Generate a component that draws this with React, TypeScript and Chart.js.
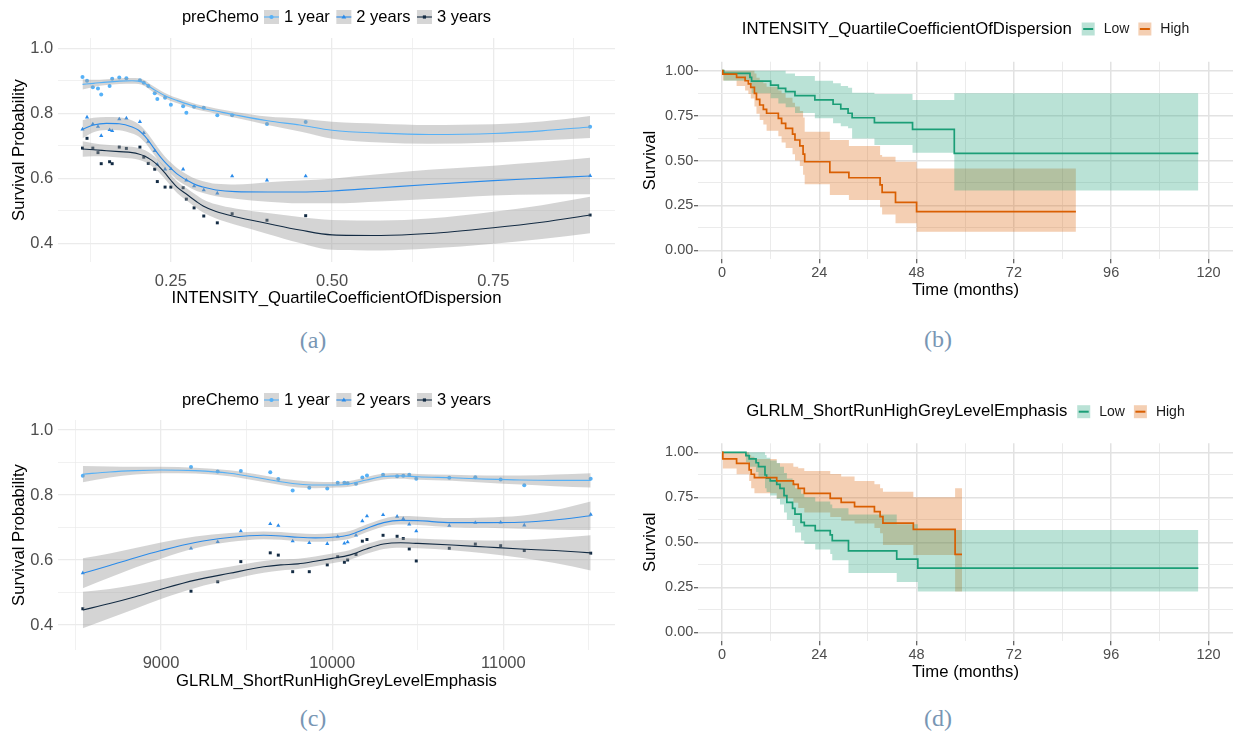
import React, { useEffect, useRef } from "react";
import { Chart, registerables } from "chart.js";

Chart.register(...registerables);

const FONT = "'Liberation Sans', Arial, Helvetica, sans-serif";
const TICK_GREY = "#4d4d4d";

// ---------------- shared series info (smooth panels) ----------------
const SERIES_LABELS = ["1 year", "2 years", "3 years"];
const SERIES_COLORS = ["#56B1F7", "#2A8BEA", "#132B43"];
const SERIES_MARKERS = ["circle", "triangle", "rect"];
const SMOOTH_LEGEND_TITLE = "preChemo";

// ---------------- (a) INTENSITY_QuartileCoefficientOfDispersion ----------------
const A_POINT_X = [0.113, 0.120, 0.129, 0.137, 0.142, 0.155, 0.159, 0.170, 0.181, 0.202, 0.208, 0.215, 0.225, 0.229, 0.241, 0.250, 0.269, 0.274, 0.286, 0.301, 0.322, 0.345, 0.399, 0.459, 0.900];
const A_POINT_1Y = [0.912, 0.900, 0.880, 0.876, 0.858, 0.884, 0.906, 0.910, 0.908, 0.902, 0.894, 0.884, 0.862, 0.844, 0.848, 0.826, 0.822, 0.802, 0.820, 0.817, 0.794, 0.794, 0.767, 0.773, 0.759];
const A_POINT_2Y = [0.751, 0.788, 0.767, 0.759, 0.731, 0.749, 0.746, 0.782, 0.785, 0.774, 0.740, 0.713, 0.685, 0.643, 0.628, 0.629, 0.628, 0.594, 0.576, 0.564, 0.554, 0.607, 0.594, 0.607, 0.608];
const A_POINT_3Y = [0.693, 0.723, 0.693, 0.679, 0.645, 0.651, 0.645, 0.696, 0.692, 0.696, 0.665, 0.646, 0.628, 0.590, 0.573, 0.573, 0.571, 0.536, 0.509, 0.484, 0.463, 0.491, 0.471, 0.485, 0.487];

const A_SMOOTH_X = [0.113, 0.13, 0.15, 0.17, 0.19, 0.20, 0.21, 0.22, 0.23, 0.24, 0.25, 0.26, 0.275, 0.29, 0.30, 0.32, 0.35, 0.40, 0.45, 0.50, 0.575, 0.65, 0.75, 0.825, 0.90];
const A_LINE_1Y = [0.889, 0.892, 0.896, 0.899, 0.900, 0.899, 0.892, 0.878, 0.866, 0.855, 0.846, 0.839, 0.829, 0.820, 0.815, 0.807, 0.795, 0.777, 0.764, 0.748, 0.739, 0.735, 0.738, 0.746, 0.758];
const A_UPPER_1Y = [0.905, 0.903, 0.905, 0.908, 0.909, 0.908, 0.901, 0.887, 0.875, 0.863, 0.854, 0.847, 0.837, 0.828, 0.823, 0.815, 0.804, 0.790, 0.784, 0.774, 0.768, 0.764, 0.766, 0.775, 0.792];
const A_LOWER_1Y = [0.873, 0.881, 0.887, 0.890, 0.891, 0.890, 0.883, 0.869, 0.857, 0.847, 0.838, 0.831, 0.821, 0.812, 0.807, 0.799, 0.786, 0.764, 0.744, 0.722, 0.710, 0.706, 0.710, 0.717, 0.724];
const A_LINE_2Y = [0.751, 0.764, 0.769, 0.768, 0.758, 0.748, 0.729, 0.703, 0.675, 0.651, 0.631, 0.613, 0.594, 0.579, 0.573, 0.564, 0.559, 0.558, 0.558, 0.561, 0.571, 0.581, 0.593, 0.600, 0.607];
const A_UPPER_2Y = [0.779, 0.786, 0.789, 0.788, 0.778, 0.767, 0.748, 0.722, 0.694, 0.669, 0.649, 0.631, 0.612, 0.597, 0.591, 0.583, 0.581, 0.588, 0.593, 0.599, 0.613, 0.626, 0.639, 0.650, 0.663];
const A_LOWER_2Y = [0.723, 0.742, 0.749, 0.748, 0.738, 0.729, 0.710, 0.684, 0.656, 0.633, 0.613, 0.595, 0.576, 0.561, 0.555, 0.545, 0.537, 0.528, 0.523, 0.523, 0.529, 0.536, 0.547, 0.550, 0.551];
const A_LINE_3Y = [0.690, 0.688, 0.685, 0.682, 0.679, 0.675, 0.668, 0.656, 0.640, 0.618, 0.594, 0.572, 0.550, 0.528, 0.515, 0.498, 0.482, 0.461, 0.441, 0.426, 0.424, 0.430, 0.448, 0.465, 0.487];
const A_UPPER_3Y = [0.714, 0.708, 0.703, 0.700, 0.697, 0.693, 0.686, 0.674, 0.658, 0.636, 0.612, 0.590, 0.569, 0.548, 0.535, 0.520, 0.507, 0.493, 0.481, 0.472, 0.470, 0.476, 0.497, 0.517, 0.543];
const A_LOWER_3Y = [0.666, 0.668, 0.667, 0.664, 0.661, 0.657, 0.650, 0.638, 0.622, 0.600, 0.576, 0.554, 0.531, 0.508, 0.495, 0.476, 0.457, 0.429, 0.401, 0.380, 0.378, 0.384, 0.399, 0.413, 0.431];

const A_X_TICKS = [0.125, 0.25, 0.375, 0.5, 0.625, 0.75, 0.875];
const A_X_LABELS = ["", "0.25", "", "0.50", "", "0.75", ""];
const A_X_TITLE = "INTENSITY_QuartileCoefficientOfDispersion";

// ---------------- (c) GLRLM_ShortRunHighGreyLevelEmphasis ----------------
const C_POINT_X = [8543, 9175, 9331, 9466, 9638, 9685, 9769, 9866, 9971, 10032, 10071, 10090, 10139, 10176, 10203, 10297, 10379, 10415, 10450, 10491, 10684, 10836, 10984, 11122, 11510];
const C_POINT_1Y = [0.859, 0.886, 0.872, 0.874, 0.870, 0.849, 0.814, 0.822, 0.820, 0.838, 0.838, 0.836, 0.835, 0.854, 0.860, 0.862, 0.858, 0.859, 0.862, 0.850, 0.853, 0.855, 0.848, 0.830, 0.850];
const C_POINT_2Y = [0.560, 0.636, 0.656, 0.689, 0.711, 0.706, 0.658, 0.653, 0.650, 0.672, 0.651, 0.655, 0.676, 0.720, 0.735, 0.739, 0.734, 0.727, 0.710, 0.689, 0.706, 0.715, 0.716, 0.707, 0.740];
const C_POINT_3Y = [0.450, 0.504, 0.533, 0.595, 0.622, 0.615, 0.564, 0.564, 0.585, 0.610, 0.593, 0.600, 0.617, 0.658, 0.663, 0.676, 0.673, 0.666, 0.634, 0.597, 0.636, 0.649, 0.644, 0.629, 0.621];

const C_SMOOTH_X = [8543, 8700, 8850, 9000, 9200, 9400, 9600, 9700, 9800, 9900, 10000, 10100, 10200, 10300, 10400, 10500, 10700, 10900, 11100, 11300, 11510];
const C_LINE_1Y = [0.864, 0.871, 0.875, 0.877, 0.875, 0.867, 0.850, 0.841, 0.834, 0.831, 0.831, 0.834, 0.846, 0.857, 0.859, 0.856, 0.853, 0.849, 0.846, 0.845, 0.845];
const C_UPPER_1Y = [0.889, 0.888, 0.887, 0.887, 0.884, 0.876, 0.860, 0.851, 0.845, 0.841, 0.840, 0.843, 0.855, 0.866, 0.868, 0.865, 0.862, 0.860, 0.860, 0.863, 0.867];
const C_LOWER_1Y = [0.839, 0.854, 0.863, 0.867, 0.866, 0.858, 0.840, 0.831, 0.823, 0.821, 0.822, 0.825, 0.837, 0.848, 0.850, 0.847, 0.844, 0.838, 0.832, 0.827, 0.823];
const C_LINE_2Y = [0.559, 0.583, 0.607, 0.629, 0.654, 0.669, 0.676, 0.674, 0.670, 0.668, 0.670, 0.677, 0.697, 0.715, 0.722, 0.721, 0.715, 0.715, 0.716, 0.723, 0.736];
const C_UPPER_2Y = [0.605, 0.620, 0.637, 0.654, 0.672, 0.683, 0.688, 0.686, 0.682, 0.680, 0.682, 0.689, 0.709, 0.727, 0.735, 0.734, 0.729, 0.731, 0.736, 0.753, 0.780];
const C_LOWER_2Y = [0.513, 0.546, 0.577, 0.604, 0.636, 0.655, 0.664, 0.662, 0.658, 0.656, 0.658, 0.665, 0.685, 0.703, 0.709, 0.708, 0.701, 0.699, 0.696, 0.693, 0.692];
const C_LINE_3Y = [0.446, 0.466, 0.487, 0.510, 0.538, 0.559, 0.579, 0.585, 0.588, 0.596, 0.605, 0.615, 0.634, 0.649, 0.653, 0.651, 0.646, 0.640, 0.634, 0.629, 0.622];
const C_UPPER_3Y = [0.502, 0.511, 0.524, 0.540, 0.562, 0.579, 0.597, 0.602, 0.604, 0.611, 0.620, 0.630, 0.649, 0.664, 0.668, 0.666, 0.662, 0.660, 0.661, 0.667, 0.676];
const C_LOWER_3Y = [0.390, 0.421, 0.450, 0.480, 0.514, 0.539, 0.561, 0.568, 0.572, 0.581, 0.590, 0.600, 0.619, 0.634, 0.638, 0.636, 0.630, 0.620, 0.607, 0.591, 0.568];

const C_X_TICKS = [8500, 9000, 9500, 10000, 10500, 11000, 11500];
const C_X_LABELS = ["", "9000", "", "10000", "", "11000", ""];
const C_X_TITLE = "GLRLM_ShortRunHighGreyLevelEmphasis";

const SMOOTH_Y_TICKS = [0.4, 0.5, 0.6, 0.7, 0.8, 0.9, 1.0];
const SMOOTH_Y_LABELS = ["0.4", "", "0.6", "", "0.8", "", "1.0"];
const SMOOTH_Y_TITLE = "Survival Probability";

// ---------------- (b) Kaplan-Meier, INTENSITY_QuartileCoefficientOfDispersion ----------------
const B_TITLE = "INTENSITY_QuartileCoefficientOfDispersion";
const B_LOW_T = [0, 0.4, 6.9, 7.3, 12.0, 13.9, 15.7, 18.0, 22.9, 27.4, 29.3, 31.1, 32.1, 37.6, 47.0, 57.3, 117.5];
const B_LOW_S = [1.0, 0.985, 0.963, 0.942, 0.920, 0.902, 0.883, 0.861, 0.837, 0.813, 0.787, 0.763, 0.738, 0.711, 0.673, 0.540, 0.540];
const B_LOW_U = [1.0, 1.0, 1.0, 1.0, 1.0, 1.0, 0.985, 0.97, 0.944, 0.93, 0.915, 0.905, 0.877, 0.87, 0.837, 0.874, 0.874];
const B_LOW_L = [1.0, 0.944, 0.92, 0.874, 0.846, 0.818, 0.796, 0.765, 0.735, 0.707, 0.69, 0.679, 0.623, 0.586, 0.543, 0.333, 0.333];
const B_HIGH_T = [0, 0.2, 3.6, 5.7, 6.5, 7.1, 8.0, 8.5, 9.3, 10.2, 11.0, 13.9, 14.7, 15.7, 17.4, 18.0, 19.2, 20.0, 20.4, 26.6, 31.3, 39.0, 39.5, 42.8, 48.0, 87.3];
const B_HIGH_S = [1.0, 0.981, 0.963, 0.944, 0.926, 0.907, 0.874, 0.840, 0.809, 0.785, 0.763, 0.735, 0.707, 0.679, 0.647, 0.614, 0.581, 0.536, 0.493, 0.434, 0.404, 0.364, 0.323, 0.267, 0.215, 0.215];
const B_HIGH_U = [1.0, 1.0, 1.0, 1.0, 1.0, 1.0, 0.985, 0.96, 0.945, 0.93, 0.91, 0.89, 0.874, 0.85, 0.822, 0.80, 0.775, 0.74, 0.66, 0.614, 0.581, 0.53, 0.521, 0.493, 0.455, 0.455];
const B_HIGH_L = [1.0, 0.945, 0.915, 0.89, 0.87, 0.845, 0.80, 0.76, 0.725, 0.70, 0.665, 0.635, 0.60, 0.57, 0.535, 0.50, 0.47, 0.42, 0.368, 0.308, 0.28, 0.24, 0.20, 0.15, 0.104, 0.104];

// ---------------- (d) Kaplan-Meier, GLRLM_ShortRunHighGreyLevelEmphasis ----------------
const D_TITLE = "GLRLM_ShortRunHighGreyLevelEmphasis";
const D_LOW_T = [0, 5.9, 6.7, 8.4, 9.0, 10.6, 11.0, 11.9, 13.5, 14.3, 15.3, 16.0, 17.4, 18.0, 19.5, 20.3, 23.0, 26.7, 27.2, 31.2, 43.1, 48.3, 117.5];
const D_LOW_S = [1.0, 0.981, 0.963, 0.942, 0.920, 0.874, 0.856, 0.841, 0.822, 0.800, 0.759, 0.722, 0.689, 0.657, 0.611, 0.593, 0.565, 0.541, 0.509, 0.452, 0.406, 0.356, 0.356];
const D_LOW_U = [1.0, 1.0, 1.0, 1.0, 1.0, 0.985, 0.97, 0.955, 0.94, 0.92, 0.885, 0.855, 0.83, 0.80, 0.77, 0.75, 0.726, 0.71, 0.689, 0.655, 0.60, 0.568, 0.568];
const D_LOW_L = [1.0, 0.945, 0.92, 0.89, 0.86, 0.80, 0.78, 0.76, 0.74, 0.71, 0.665, 0.625, 0.59, 0.555, 0.51, 0.49, 0.46, 0.435, 0.40, 0.33, 0.28, 0.226, 0.226];
const D_HIGH_T = [0, 0.2, 3.6, 6.7, 7.2, 8.0, 13.5, 17.6, 18.8, 20.3, 26.7, 29.4, 32.7, 37.6, 39.0, 39.7, 47.2, 57.5, 59.2];
const D_HIGH_S = [1.0, 0.963, 0.939, 0.902, 0.878, 0.859, 0.841, 0.822, 0.800, 0.772, 0.744, 0.722, 0.698, 0.670, 0.643, 0.606, 0.572, 0.433, 0.433];
const D_HIGH_U = [1.0, 1.0, 1.0, 0.985, 0.975, 0.963, 0.939, 0.92, 0.911, 0.896, 0.88, 0.865, 0.84, 0.822, 0.80, 0.781, 0.75, 0.80, 0.80];
const D_HIGH_L = [1.0, 0.91, 0.878, 0.84, 0.80, 0.772, 0.745, 0.72, 0.69, 0.665, 0.64, 0.62, 0.605, 0.58, 0.55, 0.485, 0.43, 0.226, 0.226];

const KM_X_TICKS = [0, 12, 24, 36, 48, 60, 72, 84, 96, 108, 120];
const KM_X_LABELS = ["0", "", "24", "", "48", "", "72", "", "96", "", "120"];
const KM_Y_TICKS = [0, 0.125, 0.25, 0.375, 0.5, 0.625, 0.75, 0.875, 1.0];
const KM_Y_LABELS = ["0.00", "", "0.25", "", "0.50", "", "0.75", "", "1.00"];
const KM_X_TITLE = "Time (months)";
const KM_Y_TITLE = "Survival";
const KM_GROUPS = ["Low", "High"];
const KM_COLORS = ["#1B9E77", "#D95F02"];
const KM_FILLS = ["rgba(27,158,119,0.3)", "rgba(217,95,2,0.3)"];

const CAPTIONS = ["(a)", "(b)", "(c)", "(d)"];

// ---------------- helpers ----------------
function pts(xs: number[], ys: number[]) {
  return xs.map((x, i) => ({ x, y: ys[i] }));
}

function idxOf(values: number[], v: number) {
  return values.findIndex((t) => Math.abs(t - v) < 1e-9);
}

function labelFor(values: number[], labels: string[]) {
  return (v: any) => {
    const i = idxOf(values, Number(v));
    return i >= 0 ? labels[i] : "";
  };
}

function isMajor(values: number[], labels: string[], ctx: any) {
  const v = ctx && ctx.tick ? ctx.tick.value : NaN;
  const i = idxOf(values, v);
  return i >= 0 && labels[i] !== "";
}

function drawMarker(ctx: CanvasRenderingContext2D, kind: string, x: number, y: number, color: string) {
  ctx.fillStyle = color;
  ctx.beginPath();
  if (kind === "circle") {
    ctx.arc(x, y, 2.1, 0, Math.PI * 2);
  } else if (kind === "triangle") {
    ctx.moveTo(x, y - 2.6);
    ctx.lineTo(x + 2.4, y + 1.6);
    ctx.lineTo(x - 2.4, y + 1.6);
    ctx.closePath();
  } else {
    ctx.rect(x - 1.6, y - 1.6, 3.2, 3.2);
  }
  ctx.fill();
}

function smoothLegendPlugin(cy: number) {
  return {
    id: "smoothLegend",
    afterDraw(chart: any) {
      const ctx: CanvasRenderingContext2D = chart.ctx;
      const area = chart.chartArea;
      ctx.save();
      ctx.font = `16.5px ${FONT}`;
      ctx.textBaseline = "middle";
      ctx.textAlign = "left";
      const box = 15, g1 = 5, g2 = 5, g3 = 6.5;
      const tw = ctx.measureText(SMOOTH_LEGEND_TITLE).width;
      const widths = SERIES_LABELS.map((l) => ctx.measureText(l).width);
      let total = tw + g1;
      widths.forEach((w, i) => {
        total += box + g2 + w + (i < widths.length - 1 ? g3 : 0);
      });
      let x = (area.left + area.right) / 2 - total / 2;
      ctx.fillStyle = "#000";
      ctx.fillText(SMOOTH_LEGEND_TITLE, x, cy);
      x += tw + g1;
      SERIES_LABELS.forEach((label, i) => {
        ctx.fillStyle = "#d6d6d6";
        ctx.fillRect(x, cy - 7, box, 14);
        ctx.strokeStyle = SERIES_COLORS[i];
        ctx.lineWidth = 1.1;
        ctx.beginPath();
        ctx.moveTo(x, cy);
        ctx.lineTo(x + box, cy);
        ctx.stroke();
        drawMarker(ctx, SERIES_MARKERS[i], x + box / 2, cy, SERIES_COLORS[i]);
        x += box + g2;
        ctx.fillStyle = "#000";
        ctx.fillText(label, x, cy);
        x += widths[i] + g3;
      });
      ctx.restore();
    },
  };
}

function kmLegendPlugin(cy: number, title: string) {
  return {
    id: "kmLegend",
    afterDraw(chart: any) {
      const ctx: CanvasRenderingContext2D = chart.ctx;
      const area = chart.chartArea;
      ctx.save();
      ctx.textBaseline = "middle";
      ctx.textAlign = "left";
      ctx.font = `16.7px ${FONT}`;
      const tw = ctx.measureText(title).width;
      ctx.font = `14px ${FONT}`;
      const widths = KM_GROUPS.map((g) => ctx.measureText(g).width);
      const box = 13, g1 = 10, g2 = 9, g3 = 9;
      let total = tw + g1;
      widths.forEach((w, i) => {
        total += box + g2 + w + (i < widths.length - 1 ? g3 : 0);
      });
      let x = (area.left + area.right) / 2 - total / 2;
      ctx.font = `16.7px ${FONT}`;
      ctx.fillStyle = "#000";
      ctx.fillText(title, x, cy);
      x += tw + g1;
      ctx.font = `14px ${FONT}`;
      KM_GROUPS.forEach((g, i) => {
        ctx.fillStyle = KM_FILLS[i];
        ctx.fillRect(x, cy - 6.5, box, 13);
        ctx.strokeStyle = KM_COLORS[i];
        ctx.lineWidth = 2;
        ctx.beginPath();
        ctx.moveTo(x + 1.5, cy);
        ctx.lineTo(x + box - 1.5, cy);
        ctx.stroke();
        x += box + g2;
        ctx.fillStyle = "#1a1a1a";
        ctx.fillText(g, x, cy);
        x += widths[i] + g3;
      });
      ctx.restore();
    },
  };
}

type SmoothSpec = {
  pointX: number[];
  pointY: number[][];
  smoothX: number[];
  line: number[][];
  upper: number[][];
  lower: number[][];
  xMin: number;
  xMax: number;
  yMin: number;
  yMax: number;
  xTicks: number[];
  xLabels: string[];
  xTitle: string;
  padTop: number;
  padRight: number;
  xAxisHeight: number;
  xTickPad: number;
  xTitlePad: number;
  legendY: number;
};

function smoothConfig(s: SmoothSpec): any {
  const datasets: any[] = [];
  const radii = [2.0, 2.4, 2.1];
  for (let k = 0; k < 3; k++) {
    datasets.push({
      data: pts(s.pointX, s.pointY[k]),
      showLine: false,
      pointStyle: SERIES_MARKERS[k],
      pointRadius: radii[k],
      pointBackgroundColor: SERIES_COLORS[k],
      pointBorderColor: SERIES_COLORS[k],
      pointBorderWidth: 0,
      borderColor: SERIES_COLORS[k],
      fill: false,
      order: 30,
    });
  }
  for (let k = 0; k < 3; k++) {
    datasets.push({
      data: pts(s.smoothX, s.upper[k]),
      borderColor: "rgba(0,0,0,0)",
      borderWidth: 0,
      pointRadius: 0,
      cubicInterpolationMode: "monotone",
      fill: "+1",
      backgroundColor: "rgba(153,153,153,0.42)",
      order: 20,
    });
    datasets.push({
      data: pts(s.smoothX, s.lower[k]),
      borderColor: "rgba(0,0,0,0)",
      borderWidth: 0,
      pointRadius: 0,
      cubicInterpolationMode: "monotone",
      fill: false,
      order: 20,
    });
  }
  for (let k = 0; k < 3; k++) {
    datasets.push({
      data: pts(s.smoothX, s.line[k]),
      borderColor: SERIES_COLORS[k],
      borderWidth: 1.1,
      pointRadius: 0,
      cubicInterpolationMode: "monotone",
      fill: false,
      order: 10,
    });
  }
  return {
    type: "line",
    data: { datasets },
    options: {
      responsive: false,
      maintainAspectRatio: false,
      animation: false,
      events: [],
      layout: { padding: { top: s.padTop, right: s.padRight, left: 0, bottom: 0 } },
      plugins: { legend: { display: false }, tooltip: { enabled: false } },
      scales: {
        x: {
          type: "linear",
          min: s.xMin,
          max: s.xMax,
          bounds: "data",
          afterBuildTicks: (sc: any) => {
            sc.ticks = s.xTicks.map((v) => ({ value: v }));
          },
          afterFit: (sc: any) => {
            sc.height = s.xAxisHeight;
          },
          ticks: {
            autoSkip: false,
            maxRotation: 0,
            padding: s.xTickPad,
            color: TICK_GREY,
            font: { family: FONT, size: 16.5 },
            callback: labelFor(s.xTicks, s.xLabels),
          },
          grid: {
            drawTicks: false,
            color: "#ebebeb",
            lineWidth: (ctx: any) => (isMajor(s.xTicks, s.xLabels, ctx) ? 1.3 : 0.7),
          },
          border: { display: false },
          title: {
            display: true,
            text: s.xTitle,
            color: "#000",
            font: { family: FONT, size: 16.7 },
            padding: { top: 0, bottom: s.xTitlePad },
          },
        },
        y: {
          type: "linear",
          min: s.yMin,
          max: s.yMax,
          bounds: "data",
          afterBuildTicks: (sc: any) => {
            sc.ticks = SMOOTH_Y_TICKS.map((v) => ({ value: v }));
          },
          afterFit: (sc: any) => {
            sc.width = 58;
          },
          ticks: {
            autoSkip: false,
            padding: 4.7,
            color: TICK_GREY,
            font: { family: FONT, size: 16.5 },
            callback: labelFor(SMOOTH_Y_TICKS, SMOOTH_Y_LABELS),
          },
          grid: {
            drawTicks: false,
            color: "#ebebeb",
            lineWidth: (ctx: any) => (isMajor(SMOOTH_Y_TICKS, SMOOTH_Y_LABELS, ctx) ? 1.3 : 0.7),
          },
          border: { display: false },
          title: {
            display: true,
            text: SMOOTH_Y_TITLE,
            color: "#000",
            font: { family: FONT, size: 16.7 },
            padding: { top: 9, bottom: 0 },
          },
        },
      },
    },
    plugins: [smoothLegendPlugin(s.legendY)],
  };
}

type KMGroup = { t: number[]; s: number[]; u: number[]; l: number[] };

type KMSpec = {
  groups: KMGroup[];
  title: string;
  padTop: number;
  padRight: number;
  xAxisHeight: number;
  xTitlePad: number;
  yTitlePad: number;
  legendY: number;
};

function kmConfig(k: KMSpec): any {
  const datasets: any[] = [];
  k.groups.forEach((g, i) => {
    datasets.push({
      data: pts(g.t, g.u),
      stepped: true,
      borderColor: "rgba(0,0,0,0)",
      borderWidth: 0,
      pointRadius: 0,
      fill: "+1",
      backgroundColor: KM_FILLS[i],
      order: 20,
    });
    datasets.push({
      data: pts(g.t, g.l),
      stepped: true,
      borderColor: "rgba(0,0,0,0)",
      borderWidth: 0,
      pointRadius: 0,
      fill: false,
      order: 20,
    });
  });
  k.groups.forEach((g, i) => {
    datasets.push({
      data: pts(g.t, g.s),
      stepped: true,
      borderColor: KM_COLORS[i],
      borderWidth: 1.7,
      pointRadius: 0,
      fill: false,
      order: 10 - i,
    });
  });
  const gridColor = (vals: number[], labs: string[]) => (ctx: any) =>
    isMajor(vals, labs, ctx) ? "#e2e2e2" : "#ebebeb";
  const gridWidth = (vals: number[], labs: string[]) => (ctx: any) =>
    isMajor(vals, labs, ctx) ? 1.5 : 1.0;
  const tickColor = (vals: number[], labs: string[]) => (ctx: any) =>
    isMajor(vals, labs, ctx) ? "#333333" : "rgba(0,0,0,0)";
  return {
    type: "line",
    data: { datasets },
    options: {
      responsive: false,
      maintainAspectRatio: false,
      animation: false,
      events: [],
      layout: { padding: { top: k.padTop, right: k.padRight, left: 0, bottom: 0 } },
      plugins: { legend: { display: false }, tooltip: { enabled: false } },
      scales: {
        x: {
          type: "linear",
          min: -5.92,
          max: 126.05,
          bounds: "data",
          afterBuildTicks: (sc: any) => {
            sc.ticks = KM_X_TICKS.map((v) => ({ value: v }));
          },
          afterFit: (sc: any) => {
            sc.height = k.xAxisHeight;
          },
          ticks: {
            autoSkip: false,
            maxRotation: 0,
            padding: 1,
            color: TICK_GREY,
            font: { family: FONT, size: 14.5 },
            callback: labelFor(KM_X_TICKS, KM_X_LABELS),
          },
          grid: {
            drawTicks: true,
            tickLength: 4,
            tickWidth: 1,
            tickColor: tickColor(KM_X_TICKS, KM_X_LABELS),
            color: gridColor(KM_X_TICKS, KM_X_LABELS),
            lineWidth: gridWidth(KM_X_TICKS, KM_X_LABELS),
          },
          border: { display: false },
          title: {
            display: true,
            text: KM_X_TITLE,
            color: "#000",
            font: { family: FONT, size: 16.7 },
            padding: { top: 0, bottom: k.xTitlePad },
          },
        },
        y: {
          type: "linear",
          min: -0.05,
          max: 1.05,
          bounds: "data",
          afterBuildTicks: (sc: any) => {
            sc.ticks = KM_Y_TICKS.map((v) => ({ value: v }));
          },
          afterFit: (sc: any) => {
            sc.width = 68;
          },
          ticks: {
            autoSkip: false,
            padding: 0.7,
            color: TICK_GREY,
            font: { family: FONT, size: 14.5 },
            callback: labelFor(KM_Y_TICKS, KM_Y_LABELS),
          },
          grid: {
            drawTicks: true,
            tickLength: 4,
            tickWidth: 1,
            tickColor: tickColor(KM_Y_TICKS, KM_Y_LABELS),
            color: gridColor(KM_Y_TICKS, KM_Y_LABELS),
            lineWidth: gridWidth(KM_Y_TICKS, KM_Y_LABELS),
          },
          border: { display: false },
          title: {
            display: true,
            text: KM_Y_TITLE,
            color: "#000",
            font: { family: FONT, size: 16.7 },
            padding: { top: k.yTitlePad, bottom: 0 },
          },
        },
      },
    },
    plugins: [kmLegendPlugin(k.legendY, k.title)],
  };
}

function ChartCanvas(props: { left: number; top: number; width: number; height: number; build: () => any }) {
  const ref = useRef<HTMLCanvasElement>(null);
  useEffect(() => {
    if (!ref.current) return;
    const chart = new Chart(ref.current, props.build());
    return () => chart.destroy();
  }, []);
  return (
    <canvas
      ref={ref}
      width={props.width}
      height={props.height}
      style={{ position: "absolute", left: props.left, top: props.top, width: props.width, height: props.height }}
    />
  );
}

function Caption(props: { text: string; cx: number; cy: number }) {
  return (
    <div
      style={{
        position: "absolute",
        left: props.cx - 50,
        top: props.cy - 15,
        width: 100,
        height: 30,
        lineHeight: "30px",
        textAlign: "center",
        fontFamily: "'Liberation Serif', 'DejaVu Serif', serif",
        fontSize: 24,
        color: "#7896b4",
      }}
    >
      {props.text}
    </div>
  );
}

export default function App() {
  const buildA = () =>
    smoothConfig({
      pointX: A_POINT_X,
      pointY: [A_POINT_1Y, A_POINT_2Y, A_POINT_3Y],
      smoothX: A_SMOOTH_X,
      line: [A_LINE_1Y, A_LINE_2Y, A_LINE_3Y],
      upper: [A_UPPER_1Y, A_UPPER_2Y, A_UPPER_3Y],
      lower: [A_LOWER_1Y, A_LOWER_2Y, A_LOWER_3Y],
      xMin: 0.075,
      xMax: 0.9386,
      yMin: 0.3425,
      yMax: 1.0317,
      xTicks: A_X_TICKS,
      xLabels: A_X_LABELS,
      xTitle: A_X_TITLE,
      padTop: 38,
      padRight: 10,
      xAxisHeight: 48,
      xTickPad: 10,
      xTitlePad: 2,
      legendY: 17,
    });
  const buildC = () =>
    smoothConfig({
      pointX: C_POINT_X,
      pointY: [C_POINT_1Y, C_POINT_2Y, C_POINT_3Y],
      smoothX: C_SMOOTH_X,
      line: [C_LINE_1Y, C_LINE_2Y, C_LINE_3Y],
      upper: [C_UPPER_1Y, C_UPPER_2Y, C_UPPER_3Y],
      lower: [C_LOWER_1Y, C_LOWER_2Y, C_LOWER_3Y],
      xMin: 8398,
      xMax: 11652,
      yMin: 0.323,
      yMax: 1.0308,
      xTicks: C_X_TICKS,
      xLabels: C_X_LABELS,
      xTitle: C_X_TITLE,
      padTop: 40,
      padRight: 10,
      xAxisHeight: 45,
      xTickPad: 3.4,
      xTitlePad: 3.4,
      legendY: 20,
    });
  const buildB = () =>
    kmConfig({
      groups: [
        { t: B_LOW_T, s: B_LOW_S, u: B_LOW_U, l: B_LOW_L },
        { t: B_HIGH_T, s: B_HIGH_S, u: B_HIGH_U, l: B_HIGH_L },
      ],
      title: B_TITLE,
      padTop: 61.7,
      padRight: 2,
      xAxisHeight: 45.7,
      xTitlePad: 5,
      yTitlePad: 10,
      legendY: 29,
    });
  const buildD = () =>
    kmConfig({
      groups: [
        { t: D_LOW_T, s: D_LOW_S, u: D_LOW_U, l: D_LOW_L },
        { t: D_HIGH_T, s: D_HIGH_S, u: D_HIGH_U, l: D_HIGH_L },
      ],
      title: D_TITLE,
      padTop: 63.3,
      padRight: 2,
      xAxisHeight: 48.7,
      xTitlePad: 7.3,
      yTitlePad: 10.5,
      legendY: 31.7,
    });

  return (
    <div style={{ position: "absolute", left: 0, top: 0, width: 1235, height: 737, background: "#fff", overflow: "hidden" }}>
      <ChartCanvas left={0} top={0} width={625} height={310} build={buildA} />
      <ChartCanvas left={630} top={0} width={605} height={305} build={buildB} />
      <ChartCanvas left={0} top={380} width={625} height={315} build={buildC} />
      <ChartCanvas left={630} top={380} width={605} height={310} build={buildD} />
      <Caption text={CAPTIONS[0]} cx={313} cy={340} />
      <Caption text={CAPTIONS[1]} cx={938} cy={339} />
      <Caption text={CAPTIONS[2]} cx={313} cy={718} />
      <Caption text={CAPTIONS[3]} cx={938} cy={718} />
    </div>
  );
}
